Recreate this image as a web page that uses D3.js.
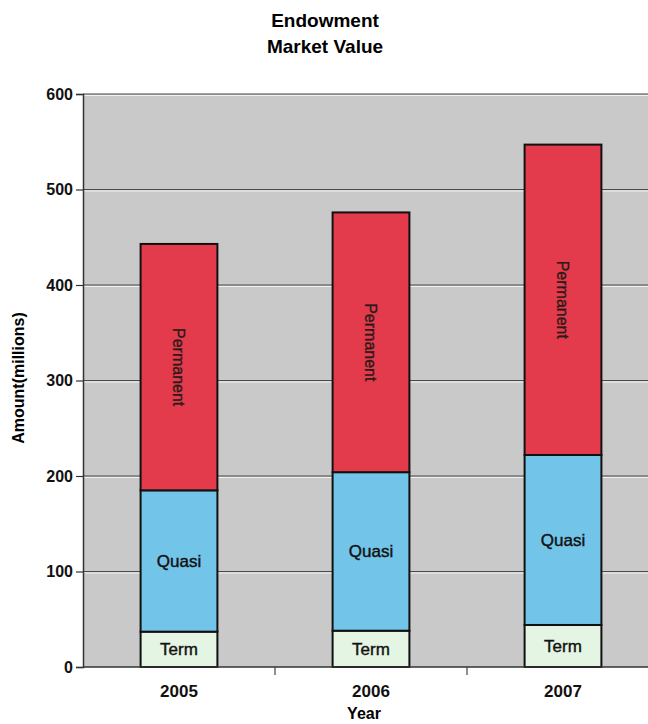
<!DOCTYPE html>
<html>
<head>
<meta charset="utf-8">
<script src="https://cdn.jsdelivr.net/npm/d3@7"></script>
<style>
  body { margin: 0; background: #fff; }
  text { font-family: "Liberation Sans", Arial, sans-serif; }
</style>
</head>
<body>
<svg id="chart"></svg>
<script>
const years = ['2005', '2006', '2007'];
const term = [37, 38, 44];
const quasi = [148, 166, 178];
const permanent = [258, 272, 325];
const yTicks = [0, 100, 200, 300, 400, 500, 600];

const width = 648, height = 724;
const margin = { top: 94, right: -11, bottom: 57, left: 83 };

const svg = d3.select('#chart').attr('width', width).attr('height', height);

const x = d3.scaleBand().domain(years).range([margin.left, width - margin.right]).paddingInner(0.6).paddingOuter(0.3);
const band = d3.scaleBand().domain(years).range([margin.left, width - margin.right]);
const y = d3.scaleLinear().domain([0, 600]).range([height - margin.bottom, margin.top]);

// plot background
svg.append('rect')
  .attr('x', margin.left).attr('y', margin.top)
  .attr('width', width - margin.left).attr('height', y(0) - margin.top)
  .attr('fill', '#c9c9c9');

// grid
yTicks.slice(1).forEach(t => {
  svg.append('line').attr('x1', margin.left).attr('x2', width).attr('y1', y(t) + 1.5).attr('y2', y(t) + 1.5)
    .attr('stroke', '#f2f2f2').attr('stroke-width', 1.2);
  svg.append('line').attr('x1', margin.left).attr('x2', width).attr('y1', y(t)).attr('y2', y(t))
    .attr('stroke', '#4a4a4a').attr('stroke-width', 1.2);
});

const rows = years.map((yr, i) => ({ year: yr, Term: term[i], Quasi: quasi[i], Permanent: permanent[i] }));
const stack = d3.stack().keys(['Term', 'Quasi', 'Permanent'])(rows);
const colors = { Term: '#e4f5e3', Quasi: '#72c4e8', Permanent: '#e33b4b' };

const g = svg.append('g');
stack.forEach(layer => {
  layer.forEach(d => {
    g.append('rect')
      .attr('x', x(d.data.year))
      .attr('y', y(d[1]))
      .attr('width', x.bandwidth())
      .attr('height', y(d[0]) - y(d[1]))
      .attr('fill', colors[layer.key])
      .attr('stroke', '#111')
      .attr('stroke-width', 2);
    const cx = x(d.data.year) + x.bandwidth() / 2;
    const cy = (y(d[0]) + y(d[1])) / 2;
    if (layer.key === 'Permanent') {
      g.append('text')
        .attr('transform', `translate(${cx},${cy}) rotate(90)`)
        .attr('text-anchor', 'middle').attr('dy', '0.35em')
        .style('font-size', '16px').style('fill', '#2a1a1a')
        .style('stroke', '#2a1a1a').style('stroke-width', 0.35)
        .text('Permanent');
    } else {
      g.append('text')
        .attr('x', cx).attr('y', cy).attr('dy', '0.35em')
        .attr('text-anchor', 'middle')
        .style('font-size', '17px').style('fill', '#111')
        .style('stroke', '#111').style('stroke-width', 0.4)
        .text(layer.key);
    }
  });
});

// y axis
const yAxis = svg.append('g').attr('transform', `translate(${margin.left},0)`)
  .call(d3.axisLeft(y).tickValues(yTicks).tickSize(7).tickPadding(3));
yAxis.select('.domain').attr('stroke', '#333').attr('stroke-width', 1.5);
yAxis.selectAll('.tick line').attr('stroke', '#333').attr('stroke-width', 1.2);
yAxis.selectAll('.tick text').style('font-size', '16px').style('font-weight', 'bold').attr('fill', '#111');

// x axis
svg.append('line').attr('x1', margin.left).attr('x2', width).attr('y1', y(0)).attr('y2', y(0))
  .attr('stroke', '#333').attr('stroke-width', 1.5);
years.slice(1).forEach(yr => {
  svg.append('line').attr('x1', band(yr)).attr('x2', band(yr)).attr('y1', y(0)).attr('y2', y(0) + 8)
    .attr('stroke', '#444').attr('stroke-width', 1.2);
});
years.forEach(yr => {
  svg.append('text')
    .attr('x', x(yr) + x.bandwidth() / 2).attr('y', 697)
    .attr('text-anchor', 'middle')
    .style('font-size', '17px').style('font-weight', 'bold').style('fill', '#111')
    .text(yr);
});

// titles
svg.append('text').attr('x', 325).attr('y', 27).attr('text-anchor', 'middle')
  .style('font-size', '19px').style('font-weight', 'bold').text('Endowment');
svg.append('text').attr('x', 325).attr('y', 53).attr('text-anchor', 'middle')
  .style('font-size', '19px').style('font-weight', 'bold').text('Market Value');
svg.append('text').attr('x', 364).attr('y', 719).attr('text-anchor', 'middle')
  .style('font-size', '16px').style('font-weight', 'bold').text('Year');
svg.append('text').attr('transform', 'translate(24,378) rotate(-90)').attr('text-anchor', 'middle')
  .style('font-size', '16px').style('font-weight', 'bold').text('Amount(millions)');
</script>
</body>
</html>
